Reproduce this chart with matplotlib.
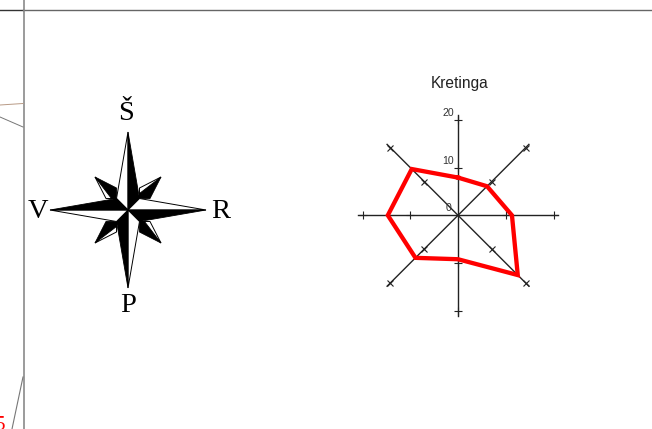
import matplotlib
matplotlib.use("Agg")
import matplotlib.pyplot as plt
import numpy as np

# wind directions, clockwise from north
directions = ["Š", "ŠR", "R", "PR", "P", "PV", "V", "ŠV"]
angles_deg = [0, 45, 90, 135, 180, 225, 270, 315]
kretinga = [7.9, 8.6, 11.3, 17.7, 9.2, 12.6, 14.7, 13.7]
r_ticks = [10, 20]
r_labels = ["0", "10", "20"]
compass_letters = ["Š", "R", "P", "V"]

W, H = 652, 429
fig = plt.figure(figsize=(W / 100, H / 100), dpi=100)

# page layer in pixel coordinates
page = fig.add_axes([0, 0, 1, 1])
page.set_xlim(0, W)
page.set_ylim(H, 0)
page.axis("off")

# frame lines and cut off bits of the neighbouring map
page.plot([0, 23], [10, 10], color="#333333", lw=1)
page.plot([23, W], [10, 10], color="#666666", lw=1)
page.plot([23.5, 23.5], [0, H], color="#808080", lw=1.1)
page.plot([0, 23], [105, 103.5], color="#b89a85", lw=0.7)
page.plot([0, 23], [117, 127], color="#777777", lw=0.7)
page.plot([12, 23], [429, 377], color="#777777", lw=0.8)
page.text(0, 425, "5", color="red", fontsize=15, family="Liberation Serif",
          ha="center", va="center", clip_on=True)

# compass rose
cx, cy = 128, 210
big, mid, small, outer = 78, 11.5, 33, 22


def rot(px, py, k):
    # quarter turns clockwise on screen
    for _ in range(k):
        px, py = -py, px
    return cx + px, cy + py


for k in range(4):
    # long point (starts pointing up), right half black
    black = [rot(0, -big, k), rot(mid, -mid, k), rot(0, 0, k)]
    white = [rot(0, -big, k), rot(-mid, -mid, k), rot(0, 0, k)]
    page.fill(*zip(*white), facecolor="white", edgecolor="black", lw=0.7, zorder=3)
    page.fill(*zip(*black), facecolor="black", edgecolor="black", lw=0.6, zorder=3)
    # short diagonal point (starts pointing to NW), most of it black
    tip = rot(-small, -small, k)
    black2 = [tip, rot(-mid, -outer, k), rot(-mid, -mid, k), rot(-mid - 5, -mid, k)]
    white2 = [tip, rot(-outer, -mid, k), rot(-mid, -mid, k)]
    page.fill(*zip(*white2), facecolor="white", edgecolor="black", lw=0.7, zorder=2)
    page.fill(*zip(*black2), facecolor="black", edgecolor="black", lw=0.6, zorder=2)

letter_pos = [(126, 113), (221, 211), (128, 305), (38, 211)]
for s, (lx, ly) in zip(compass_letters, letter_pos):
    page.text(lx, ly, s, family="Liberation Serif", fontsize=20.5, color="black",
              ha="center", va="center", zorder=4)

# radar chart
cxr, cyr, rad = 458, 215.3, 95.5
ax = fig.add_axes([(cxr - rad) / W, (H - cyr - rad) / H, 2 * rad / W, 2 * rad / H],
                  projection="polar")
ax.set_theta_zero_location("N")
ax.set_theta_direction(-1)
ax.set_rlim(0, 20)
ax.axis("off")
ax.patch.set_alpha(0)

theta = np.deg2rad(angles_deg)
for a, d in zip(theta, angles_deg):
    ax.plot([a, a], [0, 21], color="#222222", lw=1.0, clip_on=False, zorder=2)
    straight = d % 90 == 0
    ax.plot([a] * len(r_ticks), r_ticks, ls="none", color="#222222", clip_on=False, zorder=2,
            marker="+" if straight else "x", ms=6.2 if straight else 5, mew=0.8)

ax.plot(np.append(theta, theta[0]), kretinga + kretinga[:1], color="#ff0000", lw=3.1,
        solid_joinstyle="miter", clip_on=False, zorder=3)

for s, r, off in zip(r_labels, [0, 10, 20], [(-5, 5), (-3, 5), (-3, 5)]):
    ax.annotate(s, (0, r), xytext=off, textcoords="offset points", ha="right", va="center",
                family="Liberation Sans", fontsize=7.6, color="#333333", annotation_clip=False)

ax.text(0.51, 1.19, "Kretinga", transform=ax.transAxes, ha="center", va="center",
        family="Liberation Sans", fontsize=11.2, color="#222222")

fig.savefig("out.png", dpi=100)
